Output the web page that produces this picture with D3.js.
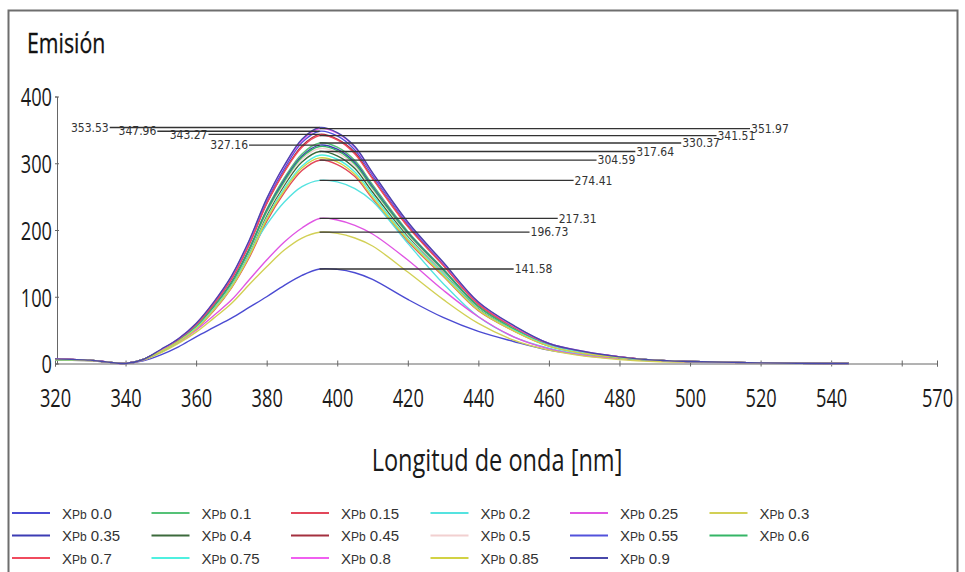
<!DOCTYPE html>
<html><head><meta charset="utf-8">
<script src="https://cdn.jsdelivr.net/npm/d3@7"></script>
<style>
html,body{margin:0;padding:0;background:#fff;}
svg{display:block;}
</style></head>
<body>
<svg id="chart" width="965" height="572"></svg>
<script>
// ---------- DATA ----------
const wavelengths = [320,330,335,340,345,350,355,360,365,370,375,380,385,390,395,400,405,410,420,430,440,450,460,470,480,490,500,520,545];

const xpb00  = [5,4,2,0,4,13,25,40,54,68,84,100,117,132,141.58,141,136,126,96,69,48,33,20,13,8,5,3,1,0];
const xpb01  = [6,5,2,0,6,19,35,56,86,122,172,231,278,314,330.37,324,304,268,198,142,86,53,28,17,9,5,3,1,0];
const xpb015 = [6,5,2,0,6,18,32,52,79,113,158,213,256,289,304.59,298,280,247,183,131,79,49,26,15,9,5,3,1,0];
const xpb02  = [6,5,2,0,6,19,36,58,88,120,165,208,242,265,274.41,272,262,243,180,120,70,40,23,13,7,4,2,1,0];
const xpb025 = [6,5,2,0,5,17,32,50,72,95,125,155,182,203,217.31,215,207,194,155,110,70,40,22,12,7,4,2,1,0];
const xpb03  = [5,4,2,0,5,16,30,47,68,90,118,145,170,188,196.73,195,188,176,137,96,60,35,20,11,6,3,2,1,0];
const xpb035 = [6,5,2,0,6,19,35,56,85,121,170,229,275,311,327.16,321,301,265,196,141,85,52,28,16,9,5,3,1,0];
const xpb04  = [6,5,2,0,6,18,34,54,83,118,165,222,267,302,317.64,311,292,257,191,137,83,51,27,16,9,5,3,1,0];
const xpb045 = [7,5,2,0,6,20,36,58,89,127,178,240,288,326,343.27,336,316,278,206,148,89,55,29,17,10,5,3,1,0];
const xpb05  = [6,5,2,0,6,19,34,55,84,119,167,225,270,306,322,316,296,261,193,138,84,52,27,16,9,5,3,1,0];
const xpb055 = [7,5,2,0,6,20,37,59,90,129,181,244,292,331,347.96,341,320,282,209,150,90,56,30,17,10,5,3,1,0];
const xpb06  = [6,5,2,0,6,19,34,55,85,120,169,228,273,309,325,319,299,263,195,140,85,52,28,16,9,5,3,1,0];
const xpb07  = [7,5,2,0,6,20,36,58,89,126,178,239,287,324,341.51,335,314,277,205,147,89,55,29,17,10,5,3,1,0];
const xpb075 = [6,5,2,0,6,18,33,53,81,115,162,218,262,296,312,306,287,253,187,134,81,50,27,16,9,5,3,1,0];
const xpb08  = [7,5,2,0,6,20,37,60,92,130,183,246,296,334,351.97,345,324,285,211,151,92,56,30,18,10,5,3,1,0];
const xpb085 = [6,5,2,0,6,18,33,52,80,114,160,216,259,293,308,302,283,249,185,132,80,49,26,15,9,5,3,1,0];
const xpb09  = [7,5,2,0,6,21,37,60,92,131,184,247,297,336,353.53,346,325,286,212,152,92,57,30,18,10,5,3,1,0];

const seriesNames = ["0.0","0.1","0.15","0.2","0.25","0.3","0.35","0.4","0.45","0.5","0.55","0.6","0.7","0.75","0.8","0.85","0.9"];
const seriesValues = [xpb00,xpb01,xpb015,xpb02,xpb025,xpb03,xpb035,xpb04,xpb045,xpb05,xpb055,xpb06,xpb07,xpb075,xpb08,xpb085,xpb09];
const seriesColors = ["#4b4bd2","#55c277","#e2475a","#55e3e0","#e055e3","#d2d055","#3c3cb4","#3c6a3c","#a4303f","#f2d0d0","#5252dc","#35b566","#f04b5e","#4ff0e0","#f05ff0","#d2d244","#4848aa"];

const xTickValues = [320,340,360,380,400,420,440,460,480,500,520,540,560,570];
const xTickLabels = ["320","340","360","380","400","420","440","460","480","500","520","540","","570"];
const yTickValues = [0,100,200,300,400];

// peak annotations
const annotValues = [353.53,347.96,343.27,327.16,351.97,341.51,330.37,317.64,304.59,274.41,217.31,196.73,141.58];
const annotSides  = ["left","left","left","left","right","right","right","right","right","right","right","right","right"];
const peakWavelength = 395;
// end of each leader line (wavelength units)
const annotEnds = [335.5,349,363.5,375,517,507.5,497.5,484.5,473.5,467,462.5,454.5,450];

// ---------- CHART ----------
const svg = d3.select("#chart");

const x = d3.scaleLinear().domain([320,570]).range([55,937]);
const y = d3.scaleLinear().domain([0,400]).range([363.5,96.5]);

function condense(sel, f){
  sel.each(function(){
    const len = this.getComputedTextLength();
    if(len>0){ d3.select(this).attr("textLength", len*f).attr("lengthAdjust","spacingAndGlyphs"); }
  });
}

// frame
svg.append("rect").attr("x",8.5).attr("y",10.5).attr("width",949).attr("height",570)
  .attr("fill","none").attr("stroke","#6e6e6e").attr("stroke-width",2);

// title
const title = svg.append("text").attr("x",27).attr("y",53)
  .attr("font-family","'Open Sans', sans-serif").attr("font-size",28).attr("fill","#111")
  .attr("stroke","#111").attr("stroke-width",0.3)
  .text("Emisión");
condense(title,0.76);

// x axis
const xAxis = d3.axisBottom(x).tickValues(xTickValues)
  .tickFormat((d,i)=>xTickLabels[i]).tickSizeOuter(0).tickSize(3).tickPadding(22);
const gx = svg.append("g").attr("transform",`translate(0,${y(0)})`).call(xAxis);
gx.select(".domain").attr("stroke","#666");
gx.selectAll(".tick line").attr("y1",-3).attr("y2",3).attr("stroke","#666");
gx.selectAll(".tick text").attr("font-family","'Open Sans', sans-serif").attr("font-size",26).attr("fill","#1a1a1a");
condense(gx.selectAll(".tick text"),0.70);

// y axis
const yAxis = d3.axisLeft(y).tickValues(yTickValues).tickSizeOuter(0).tickSize(2).tickPadding(3);
const gy = svg.append("g").attr("transform",`translate(${x(320)+2},0)`).call(yAxis);
gy.select(".domain").attr("stroke","#666");
gy.selectAll(".tick line").attr("x1",-2).attr("x2",2).attr("stroke","#666");
gy.selectAll(".tick text").attr("font-family","'Open Sans', sans-serif").attr("font-size",26).attr("fill","#1a1a1a").attr("dy","0.36em");
condense(gy.selectAll(".tick text"),0.70);

// x title
const xt = svg.append("text").attr("x",497).attr("y",471).attr("text-anchor","middle")
  .attr("font-family","'Open Sans', sans-serif").attr("font-size",31).attr("fill","#1a1a1a")
  .text("Longitud de onda [nm]");
condense(xt,0.76);

// curves
const line = d3.line().x((d,i)=>x(wavelengths[i])).y(d=>y(d)).curve(d3.curveCatmullRom.alpha(0.5));
svg.append("g").selectAll("path").data(seriesValues).join("path")
  .attr("d",d=>line(d)).attr("fill","none")
  .attr("stroke",(d,i)=>seriesColors[i]).attr("stroke-width",1.4);

// annotations
const ag = svg.append("g");
annotValues.forEach((v,i)=>{
  const yy = y(v);
  const xEnd = x(annotEnds[i]);
  ag.append("line").attr("x1",x(peakWavelength)).attr("x2",xEnd).attr("y1",yy).attr("y2",yy)
    .attr("stroke","#333").attr("stroke-width",1.3);
  const t = ag.append("text").attr("y",yy).attr("dy","0.35em")
    .attr("font-family","'Liberation Sans Narrow','DejaVu Sans Condensed',sans-serif")
    .attr("font-size",12).attr("fill","#333").text(v.toFixed(2));
  if(annotSides[i]==="left"){ t.attr("x",xEnd-1).attr("text-anchor","end"); }
  else { t.attr("x",xEnd+1).attr("text-anchor","start"); }
});

// legend
const lg = svg.append("g");
seriesNames.forEach((name,i)=>{
  const col = i%6, row = Math.floor(i/6);
  const lx = 12 + col*139.5, ly = 513 + row*22.5;
  lg.append("line").attr("x1",lx).attr("x2",lx+38).attr("y1",ly).attr("y2",ly)
    .attr("stroke",seriesColors[i]).attr("stroke-width",2);
  const t = lg.append("text").attr("x",lx+50).attr("y",ly+5.5)
    .attr("font-family","'Liberation Sans',Arial,sans-serif").attr("font-size",15).attr("fill","#333");
  t.append("tspan").text("X");
  t.append("tspan").attr("font-size",12).text("Pb");
  t.append("tspan").text(" "+name);
});
</script>
</body></html>
